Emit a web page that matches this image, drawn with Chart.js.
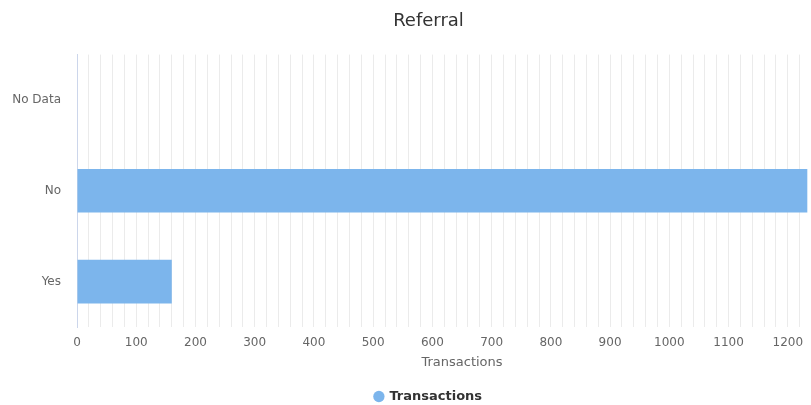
<!DOCTYPE html>
<html>
<head>
<meta charset="utf-8">
<script src="https://cdn.jsdelivr.net/npm/chart.js@4/dist/chart.umd.min.js"></script>
<style>
  html, body { margin: 0; padding: 0; background: #fff; overflow: hidden; }
  /* the reference is a crop of a slightly wider chart */
  #view { width: 811px; height: 405px; overflow: hidden; }
  canvas { display: block; }
</style>
</head>
<body>
<div id="view"><canvas id="chart" width="857" height="405"></canvas></div>
<script>
// data
const categories = ["No Data", "No", "Yes"];
const transactions = [0, 1233, 160];
const seriesName = "Transactions";
const axisMax = 1300;

const ctx = document.getElementById("chart").getContext("2d");
new Chart(ctx, {
  type: "bar",
  data: {
    labels: categories,
    datasets: [
      {
        label: seriesName,
        data: transactions,
        backgroundColor: "#7cb5ec",
        borderWidth: 0,
        categoryPercentage: 1,
        barPercentage: 0.48,
      },
    ],
  },
  options: {
    indexAxis: "y",
    responsive: false,
    animation: false,
    layout: { padding: { left: 10, right: 10, top: 0, bottom: -8 } },
    plugins: {
      title: {
        display: true,
        text: "Referral",
        color: "#333333",
        font: { family: "DejaVu Sans", size: 18, weight: "normal" },
        padding: { top: 11, bottom: 22 },
      },
      legend: {
        position: "bottom",
        labels: {
          usePointStyle: true,
          pointStyle: "circle",
          boxWidth: 8,
          boxHeight: 8,
          padding: 0,
          color: "#333333",
          font: { family: "DejaVu Sans", size: 13, weight: "bold" },
        },
      },
      tooltip: { enabled: false },
    },
    scales: {
      x: {
        min: 0,
        max: axisMax,
        grid: { color: "#ebebeb", drawTicks: false },
        border: { display: false },
        afterFit: (scale) => {
          scale.height = 63;
        },
        ticks: {
          stepSize: 20,
          autoSkip: false,
          maxRotation: 0,
          padding: 9,
          color: "#666666",
          font: { family: "DejaVu Sans", size: 12 },
          // last label falls outside the visible crop
          callback: (v) => (v % 100 === 0 && v < axisMax ? v : ""),
        },
        title: {
          display: true,
          text: "Transactions",
          color: "#666666",
          font: { family: "DejaVu Sans", size: 13 },
          padding: { top: 0, bottom: 20 },
        },
      },
      y: {
        grid: { display: false, drawTicks: false },
        border: { display: true, color: "#ccd6eb", width: 1 },
        afterFit: (scale) => {
          scale.width = 67;
        },
        ticks: {
          padding: 16,
          color: "#666666",
          font: { family: "DejaVu Sans", size: 12 },
        },
      },
    },
  },
});
</script>
</body>
</html>
